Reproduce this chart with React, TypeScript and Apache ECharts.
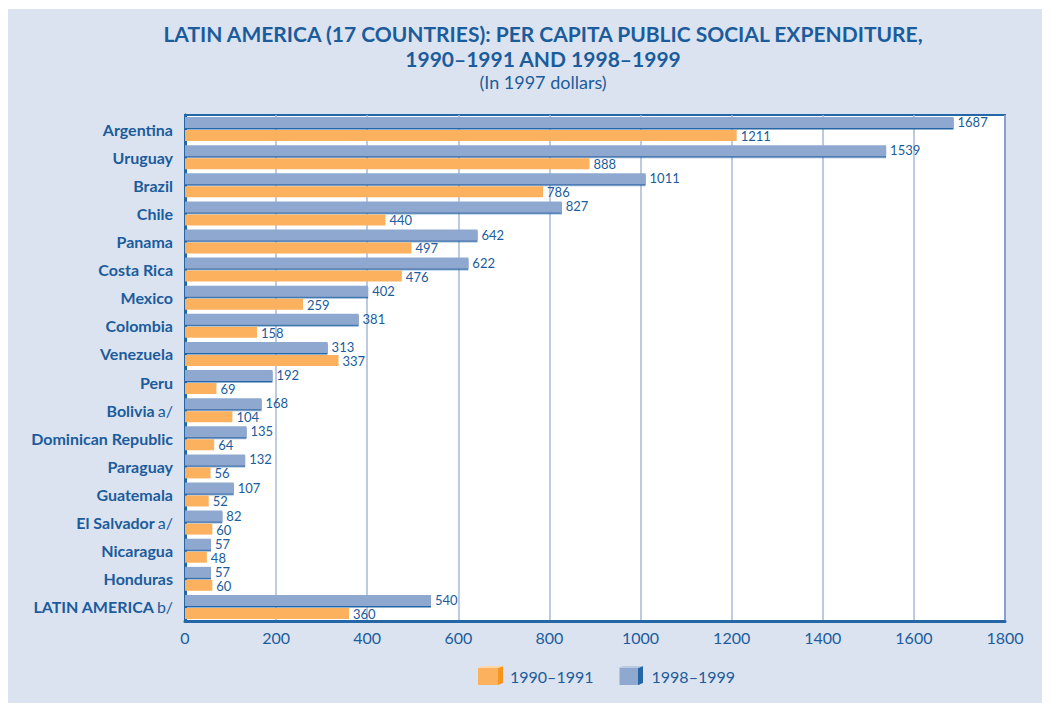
import React, { useEffect, useRef } from "react";
import * as echarts from "echarts";

// Per capita public social expenditure, in 1997 dollars
const countries = [
  "Argentina",
  "Uruguay",
  "Brazil",
  "Chile",
  "Panama",
  "Costa Rica",
  "Mexico",
  "Colombia",
  "Venezuela",
  "Peru",
  "Bolivia",
  "Dominican Republic",
  "Paraguay",
  "Guatemala",
  "El Salvador",
  "Nicaragua",
  "Honduras",
  "LATIN AMERICA",
];
// footnote markers shown after some country names
const notes: Record<string, string> = {
  Bolivia: "a/",
  "El Salvador": "a/",
  "LATIN AMERICA": "b/",
};
const values1990_1991 = [1211, 888, 786, 440, 497, 476, 259, 158, 337, 69, 104, 64, 56, 52, 60, 48, 60, 360];
const values1998_1999 = [1687, 1539, 1011, 827, 642, 622, 402, 381, 313, 192, 168, 135, 132, 107, 82, 57, 57, 540];
const xTicks = { min: 0, max: 1800, interval: 200 };

const BLUE_TEXT = "#1b5c9c";
const ORANGE = "#fbb15e";
const ORANGE_DARK = "#f7941d";
const ORANGE_LIGHT = "#fdd7a8";
const BLUE_BAR = "#8fa8d0";
const BLUE_DARK = "#2566a6";
const BLUE_LIGHT = "#b9c9e2";
const FONT = "Lato";

// side and top faces that turn a flat legend swatch into a small cube
function cubeFaces(x: number, y: number, w: number, h: number, side: string, top: string) {
  const d = 5;
  const r = 2;
  return [
    {
      type: "polygon",
      shape: { points: [[x + w, y], [x + w + d, y - r], [x + w + d, y + h - r], [x + w, y + h]] },
      style: { fill: side },
      z: 100,
    },
    {
      type: "polygon",
      shape: { points: [[x, y], [x + d, y - r], [x + w + d, y - r], [x + w, y]] },
      style: { fill: top },
      z: 100,
    },
  ];
}

export default function App() {
  const ref = useRef<HTMLDivElement>(null);

  useEffect(() => {
    document.body.style.overflow = "hidden";
    const chart = echarts.init(ref.current!, null, { renderer: "svg" });

    const valueLabel = (dy: number) => ({
      show: true,
      position: "right" as const,
      distance: 4,
      offset: [0, dy],
      color: BLUE_TEXT,
      fontFamily: FONT,
      fontSize: 13,
      lineHeight: 11,
    });

    const legendLeft = 465;
    const legendTop = 654;
    const iconW = 20;
    const iconH = 17;
    const iconTop = legendTop + 5;

    chart.setOption({
      animation: false,
      backgroundColor: "transparent",
      textStyle: { fontFamily: FONT },
      title: {
        text: "LATIN AMERICA (17 COUNTRIES): PER CAPITA PUBLIC SOCIAL EXPENDITURE,\n1990–1991 AND 1998–1999",
        subtext: "(In 1997 dollars)",
        left: 530,
        top: 7,
        textAlign: "center",
        itemGap: 2,
        textStyle: {
          color: BLUE_TEXT,
          fontFamily: FONT,
          fontWeight: "bold",
          fontSize: 21,
          lineHeight: 25,
        },
        subtextStyle: {
          color: BLUE_TEXT,
          fontFamily: FONT,
          fontSize: 18,
        },
      },
      legend: {
        left: legendLeft,
        top: legendTop,
        itemWidth: iconW,
        itemHeight: iconH,
        itemGap: 26,
        icon: "rect",
        textStyle: { color: BLUE_TEXT, fontFamily: FONT, fontSize: 16, padding: [0, 0, 0, 7] },
        data: ["1990–1991", "1998–1999"],
      },
      graphic: [
        ...cubeFaces(legendLeft + 5, iconTop, iconW, iconH, ORANGE_DARK, ORANGE_LIGHT),
        ...cubeFaces(610, iconTop, iconW, iconH, BLUE_DARK, BLUE_LIGHT),
      ],
      grid: {
        left: 177,
        right: 45,
        top: 106,
        bottom: 83,
        show: true,
        backgroundColor: "#ffffff",
        borderColor: BLUE_DARK,
        borderWidth: 2,
      },
      xAxis: {
        type: "value",
        min: xTicks.min,
        max: xTicks.max,
        interval: xTicks.interval,
        axisLine: { show: true, lineStyle: { color: BLUE_DARK, width: 3 } },
        axisTick: { show: false },
        splitLine: { show: true, lineStyle: { color: "#a9b9d6", width: 1.5 } },
        axisLabel: {
          color: BLUE_TEXT,
          fontFamily: FONT,
          fontSize: 16,
          margin: 8,
          formatter: (v: number) => String(v),
        },
      },
      yAxis: {
        type: "category",
        inverse: true,
        data: countries,
        axisLine: { show: true, lineStyle: { color: BLUE_DARK, width: 3 } },
        axisTick: { show: false },
        axisLabel: {
          margin: 12,
          formatter: (name: string) =>
            notes[name] ? `{b|${name}} {n|${notes[name]}}` : `{b|${name}}`,
          rich: {
            b: { color: BLUE_TEXT, fontFamily: FONT, fontWeight: "bold", fontSize: 16 },
            n: { color: BLUE_TEXT, fontFamily: FONT, fontSize: 16 },
          },
        },
      },
      series: [
        {
          name: "1998–1999",
          type: "bar",
          data: values1998_1999,
          barWidth: 11,
          barGap: "18%",
          itemStyle: {
            color: BLUE_BAR,
            shadowColor: BLUE_DARK,
            shadowOffsetY: 1.5,
            shadowBlur: 0,
          },
          label: valueLabel(-0.5),
        },
        {
          name: "1990–1991",
          type: "bar",
          data: values1990_1991,
          barWidth: 11,
          barGap: "18%",
          itemStyle: { color: ORANGE },
          label: valueLabel(0.5),
        },
      ],
    });

    return () => chart.dispose();
  }, []);

  return (
    <div
      ref={ref}
      style={{ width: 1042, height: 695, position: "relative", top: 1, background: "#dce3f0" }}
    />
  );
}
